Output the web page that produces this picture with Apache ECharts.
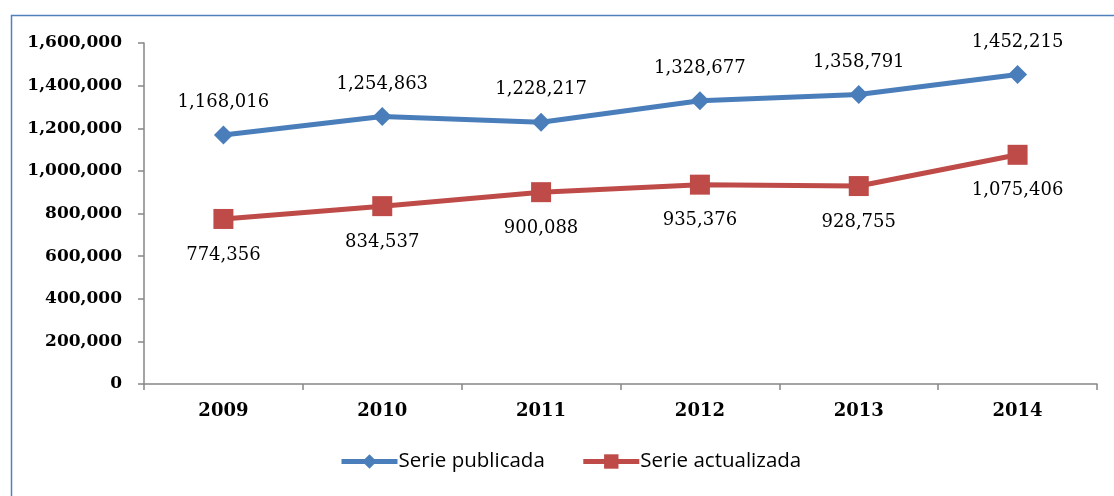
<!DOCTYPE html>
<html>
<head>
<meta charset="utf-8">
<script src="https://cdn.jsdelivr.net/npm/echarts@6/dist/echarts.min.js"></script>
<style>html,body{margin:0;padding:0;background:#fff;}#c{width:1114px;height:496px;}</style>
</head>
<body>
<div id="c"></div>
<script>
var categories = ['2009', '2010', '2011', '2012', '2013', '2014'];
var seriePublicada = [1168016, 1254863, 1228217, 1328677, 1358791, 1452215];
var serieActualizada = [774356, 834537, 900088, 935376, 928755, 1075406];
var seriesNames = ['Serie publicada', 'Serie actualizada'];

function fmt(v) { return Number(v).toLocaleString('en-US'); }

var chart = echarts.init(document.getElementById('c'), null, {renderer: 'canvas'});
chart.setOption({
  animation: false,
  backgroundColor: '#ffffff',
  graphic: [{
    type: 'rect', left: 9, top: 13, silent: true,
    shape: {x: 0, y: 0, width: 1120, height: 500},
    style: {fill: 'none', stroke: '#4f81bd', lineWidth: 1.5}
  }],
  grid: {left: 144, right: 17, top: 43, bottom: 112, containLabel: false},
  legend: {
    bottom: 19, left: 334,
    itemWidth: 56, itemHeight: 18, itemGap: 36,
    lineStyle: {width: 5},
    textStyle: {fontFamily: 'Open Sans', fontSize: 20.5, color: '#000', padding: [0, 0, 0, -4]},
    data: [seriesNames[0], seriesNames[1]]
  },
  xAxis: {
    type: 'category', data: categories, boundaryGap: true,
    axisLine: {lineStyle: {color: '#868686', width: 1.5}},
    axisTick: {show: true, length: 6, lineStyle: {color: '#868686', width: 1.5}},
    axisLabel: {fontFamily: 'DejaVu Serif', fontWeight: 'bold', fontSize: 18, color: '#000', margin: 18}
  },
  yAxis: {
    type: 'value', min: 0, max: 1600000, interval: 200000,
    axisLine: {show: true, lineStyle: {color: '#868686', width: 1.5}},
    axisTick: {show: true, length: 6, lineStyle: {color: '#868686', width: 1.5}},
    splitLine: {show: false},
    axisLabel: {fontFamily: 'DejaVu Serif', fontWeight: 'bold', fontSize: 17, color: '#000', margin: 22, formatter: fmt}
  },
  series: [
    {
      name: seriesNames[0], type: 'line', data: seriePublicada,
      symbol: 'diamond', symbolSize: 19,
      itemStyle: {color: '#4a7ebb'},
      lineStyle: {color: '#4a7ebb', width: 5},
      label: {show: true, position: 'top', distance: 14, fontFamily: 'DejaVu Serif', fontSize: 18, color: '#000',
        formatter: function (p) { return fmt(p.value); }}
    },
    {
      name: seriesNames[1], type: 'line', data: serieActualizada,
      symbol: 'rect', symbolSize: 20,
      itemStyle: {color: '#be4b48'},
      lineStyle: {color: '#be4b48', width: 5},
      label: {show: true, position: 'bottom', distance: 17, fontFamily: 'DejaVu Serif', fontSize: 18, color: '#000',
        formatter: function (p) { return fmt(p.value); }}
    }
  ]
});
</script>
</body>
</html>
